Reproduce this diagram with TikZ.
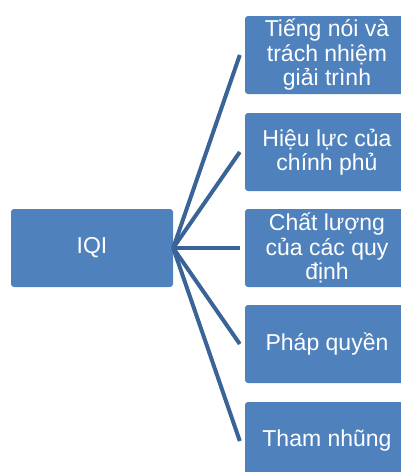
\documentclass[tikz,border=0pt]{standalone}
\usepackage{fontspec}
\setmainfont{Liberation Sans}
\definecolor{bleuboite}{RGB}{79,129,189}
\definecolor{bleulien}{RGB}{58,100,152}

\begin{document}
\begin{tikzpicture}[x=1pt, y=-1pt]
			\tikzset{boite/.style={rectangle, rounded corners=3pt, fill=bleuboite, text=white, align=center, minimum height=78pt, inner sep=0pt, font=\fontsize{23}{24.5}\selectfont}, lien/.style={draw=bleulien, line width=4pt}};

			\clip (0,0) rectangle (401,472);

			\node[boite, minimum width=162pt] (iqi) at ( 92, 248) {IQI};

			\node[boite, minimum width=164pt] (c1) at (327,  55) {Tiếng nói và\\trách nhiệm\\giải trình};
			\node[boite, minimum width=164pt] (c2) at (327, 152) {Hiệu lực của\\chính phủ};
			\node[boite, minimum width=164pt] (c3) at (327, 248) {Chất lượng\\của các quy\\định};
			\node[boite, minimum width=164pt] (c4) at (327, 344) {Pháp quyền};
			\node[boite, minimum width=164pt] (c5) at (327, 441) {Tham nhũng};

			\draw[lien] (iqi.east) -- ([xshift=-5pt]c1.west);
			\draw[lien] (iqi.east) -- ([xshift=-5pt]c2.west);
			\draw[lien] (iqi.east) -- ([xshift=-5pt]c3.west);
			\draw[lien] (iqi.east) -- ([xshift=-5pt]c4.west);
			\draw[lien] (iqi.east) -- ([xshift=-5pt]c5.west);

		\end{tikzpicture}
\end{document}
